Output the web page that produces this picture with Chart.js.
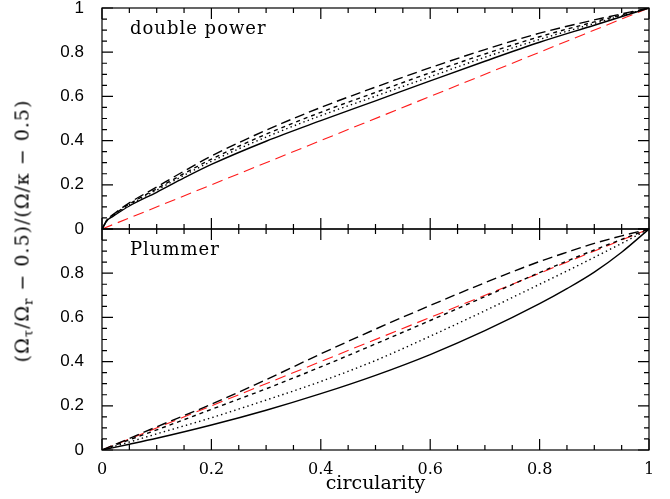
<!DOCTYPE html>
<html>
<head>
<meta charset="utf-8">
<script src="https://cdn.jsdelivr.net/npm/chart.js@4"></script>
<style>
  html, body { margin: 0; padding: 0; background: #fff; }
  #wrap { position: relative; width: 670px; height: 499px; }
  #ytitle {
    position: absolute; left: 23px; top: 231px;
    transform: translate(-50%, -50%) rotate(-90deg);
    white-space: nowrap;
    font-family: "DejaVu Serif", serif; font-size: 19px; color: #000;
    letter-spacing: 1px;
  }
  #ytitle sub { font-size: 13px; vertical-align: -4px; }
</style>
</head>
<body>
<div id="wrap">
  <canvas id="chart" width="670" height="499"></canvas>
  <div id="ytitle">(Ω<sub>τ</sub>/Ω<sub>r</sub> − 0.5)/(Ω/κ − 0.5)</div>
</div>
<script>
// top panel: double power
const xTop     = [0, 0.01, 0.02, 0.05, 0.1, 0.15, 0.2, 0.3, 0.4, 0.5, 0.6, 0.7, 0.8, 0.9, 1];
const topLong  = [0, 0.045, 0.065, 0.118, 0.19, 0.262, 0.33, 0.447, 0.55, 0.642, 0.73, 0.812, 0.886, 0.946, 1];
const topShort = [0, 0.043, 0.062, 0.113, 0.182, 0.251, 0.316, 0.429, 0.528, 0.618, 0.707, 0.792, 0.87, 0.937, 1];
const topDot   = [0, 0.042, 0.06, 0.109, 0.176, 0.243, 0.306, 0.416, 0.513, 0.601, 0.689, 0.777, 0.858, 0.93, 1];
const topSolid = [0, 0.04, 0.057, 0.104, 0.166, 0.231, 0.292, 0.397, 0.49, 0.58, 0.67, 0.759, 0.845, 0.922, 1];

// bottom panel: Plummer
const xBot     = [0, 0.05, 0.1, 0.2, 0.3, 0.4, 0.5, 0.6, 0.7, 0.8, 0.85, 0.9, 0.95, 1];
const botLong  = [0, 0.052, 0.105, 0.207, 0.318, 0.435, 0.547, 0.654, 0.757, 0.853, 0.895, 0.935, 0.969, 1];
const botShort = [0, 0.046, 0.091, 0.184, 0.277, 0.376, 0.48, 0.586, 0.694, 0.803, 0.855, 0.905, 0.953, 1];
const botDot   = [0, 0.036, 0.073, 0.146, 0.226, 0.31, 0.405, 0.515, 0.63, 0.75, 0.81, 0.872, 0.935, 1];
const botSolid = [0, 0.026, 0.053, 0.113, 0.18, 0.255, 0.338, 0.432, 0.54, 0.662, 0.73, 0.805, 0.895, 1];

// reference diagonal (red)
const xRef = [0, 1];
const yRef = [0, 1];

const panelLabels = { yTop: "double power", yBot: "Plummer" };
const xTicks = [0, 0.2, 0.4, 0.6, 0.8, 1];

const pts = (xs, ys) => xs.map((x, i) => ({ x, y: ys[i] }));

function line(xs, ys, axis, dash, color, width) {
  return {
    data: pts(xs, ys),
    yAxisID: axis,
    borderColor: color || "#000",
    borderWidth: width || 1.4,
    borderDash: dash,
    pointRadius: 0,
    fill: false,
    cubicInterpolationMode: "monotone",
  };
}

const LONG = [10, 5], SHORT = [4, 4], DOT = [1.4, 3.2], RED = [11, 6];

// frame + inward ticks on every side of each panel
const framePlugin = {
  id: "frame",
  afterDraw(chart) {
    const c = chart.ctx;
    const xs = chart.scales.x;
    c.save();
    c.strokeStyle = "#000";
    c.lineWidth = 1.2;
    ["yTop", "yBot"].forEach(id => {
      const ys = chart.scales[id];
      const L = xs.left, R = xs.right, T = ys.top, B = ys.bottom;
      c.strokeRect(L, T, R - L, B - T);
      c.beginPath();
      for (let i = 0; i <= 20; i++) {
        const v = i * 0.05;
        const len = i % 4 === 0 ? 11 : 5;
        const px = xs.getPixelForValue(v);
        c.moveTo(px, B); c.lineTo(px, B - len);
        c.moveTo(px, T); c.lineTo(px, T + len);
        const py = ys.getPixelForValue(v);
        c.moveTo(L, py); c.lineTo(L + len, py);
        c.moveTo(R, py); c.lineTo(R - len, py);
      }
      c.stroke();
      c.fillStyle = "#000";
      c.font = "18px 'DejaVu Serif'";
      c.letterSpacing = "1px";
      c.textBaseline = "alphabetic";
      c.fillText(panelLabels[id], L + 28, T + 26);
    });
    c.restore();
  }
};

const yAxis = (hideOne) => ({
  type: "linear",
  position: "left",
  stack: "panels",
  stackWeight: 1,
  min: 0, max: 1,
  grid: { display: false },
  border: { display: false },
  ticks: {
    stepSize: 0.2,
    color: "#000",
    padding: 10,
    font: { family: "'Liberation Sans'", size: 17 },
    callback: v => (hideOne && v === 1) ? "" : +v.toFixed(1),
  },
  afterFit: s => { s.width = 102; s.paddingTop = 0; s.paddingBottom = 0; },
});

new Chart(document.getElementById("chart"), {
  type: "line",
  data: {
    datasets: [
      line(xTop, topSolid, "yTop", []),
      line(xTop, topDot, "yTop", DOT),
      line(xTop, topShort, "yTop", SHORT),
      line(xTop, topLong, "yTop", LONG),
      line(xRef, yRef, "yTop", RED, "#ff1a1a", 1.1),
      line(xBot, botSolid, "yBot", []),
      line(xBot, botDot, "yBot", DOT),
      line(xBot, botShort, "yBot", SHORT),
      line(xBot, botLong, "yBot", LONG),
      line(xRef, yRef, "yBot", RED, "#ff1a1a", 1.1),
    ]
  },
  options: {
    responsive: false,
    animation: false,
    layout: { padding: { top: 8, right: 21, left: 0, bottom: 0 } },
    plugins: { legend: { display: false }, tooltip: { enabled: false } },
    scales: {
      x: {
        type: "linear",
        min: 0, max: 1,
        afterBuildTicks: s => { s.ticks = xTicks.map(v => ({ value: v })); },
        grid: { display: false },
        border: { display: false },
        ticks: {
          color: "#000",
          padding: 2,
          maxRotation: 0,
          font: { family: "'DejaVu Serif'", size: 16 },
          callback: v => +v.toFixed(1),
        },
        title: {
          display: true, text: "circularity", color: "#000",
          font: { family: "'DejaVu Serif'", size: 19 }, padding: { top: 0 },
        },
        afterFit: s => { s.height = 49; s.paddingLeft = 0; s.paddingRight = 0; },
      },
      // stacked axes: the first one listed sits at the bottom
      yBot: yAxis(true),
      yTop: yAxis(false),
    }
  },
  plugins: [framePlugin]
});
</script>
</body>
</html>
